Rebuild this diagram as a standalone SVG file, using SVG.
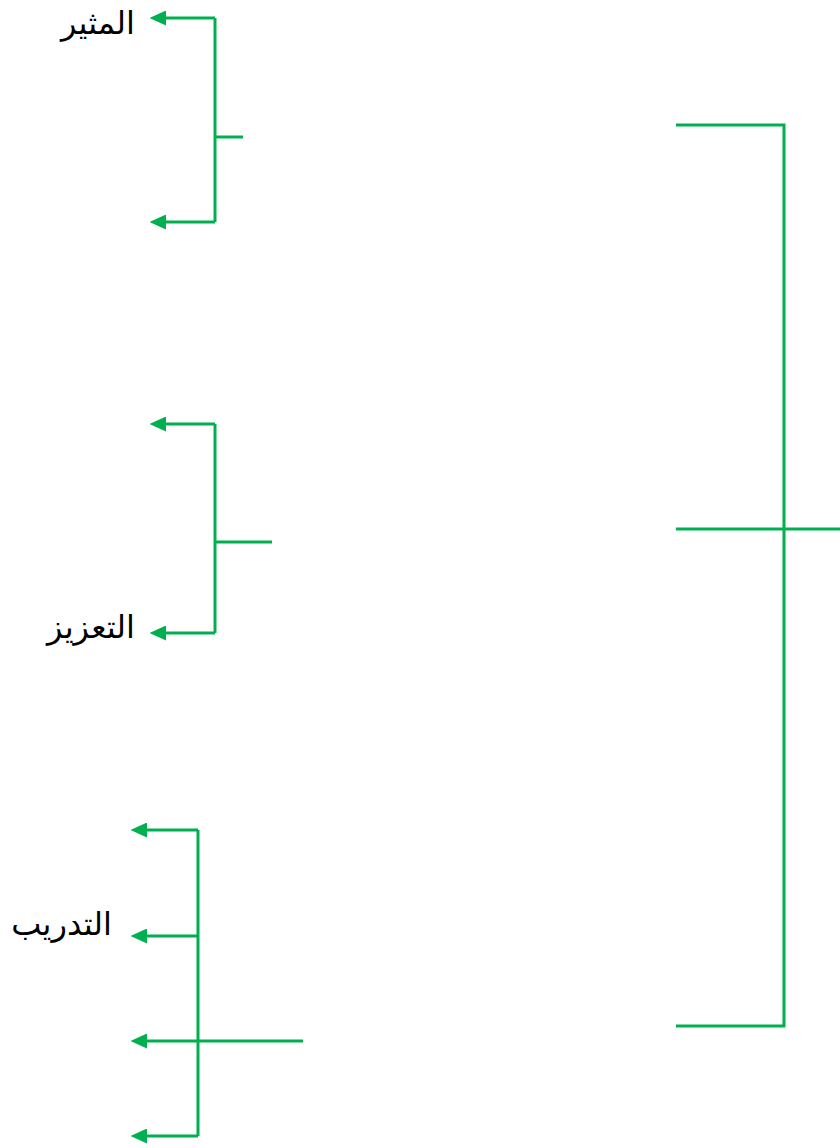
<svg xmlns="http://www.w3.org/2000/svg" width="840" height="1148" viewBox="0 0 840 1148">
<style>
.c{stroke:#00B050;stroke-width:3;fill:none}
.a{marker-end:url(#ah)}
.t{font-family:"Liberation Sans","DejaVu Sans",sans-serif;font-size:32px;fill:#000;text-anchor:end}
</style>
<defs>
<marker id="ah" markerWidth="5.5" markerHeight="5" refX="1" refY="2.5" orient="auto" markerUnits="strokeWidth">
<path d="M0,0 L5.5,2.5 L0,5 Z" fill="#00B050"/>
</marker>
</defs>
<rect width="840" height="1148" fill="#fff"/>
<g id="connectors">
<path class="c" d="M243,137 H215"/>
<path class="c" d="M215,18 V222"/>
<path class="c a" d="M215,18 H163"/>
<path class="c a" d="M215,222 H163"/>
<path class="c" d="M272,542 H215"/>
<path class="c" d="M215,424 V633"/>
<path class="c a" d="M215,424 H163"/>
<path class="c a" d="M215,633 H163"/>
<path class="c" d="M303,1041 H198"/>
<path class="c" d="M198,830 V1136"/>
<path class="c a" d="M198,830 H144"/>
<path class="c a" d="M198,936 H144"/>
<path class="c a" d="M198,1041 H144"/>
<path class="c a" d="M198,1136 H144"/>
<path class="c" d="M676,125 H784 V1026 H676"/>
<path class="c" d="M676,529 H840"/>
</g>
<g id="n1"><text class="t" x="135" y="34">المثير</text></g>
<g id="n2"><text class="t" x="135" y="638">التعزيز</text></g>
<g id="n3"><text class="t" x="112" y="935">التدريب</text></g>
</svg>
